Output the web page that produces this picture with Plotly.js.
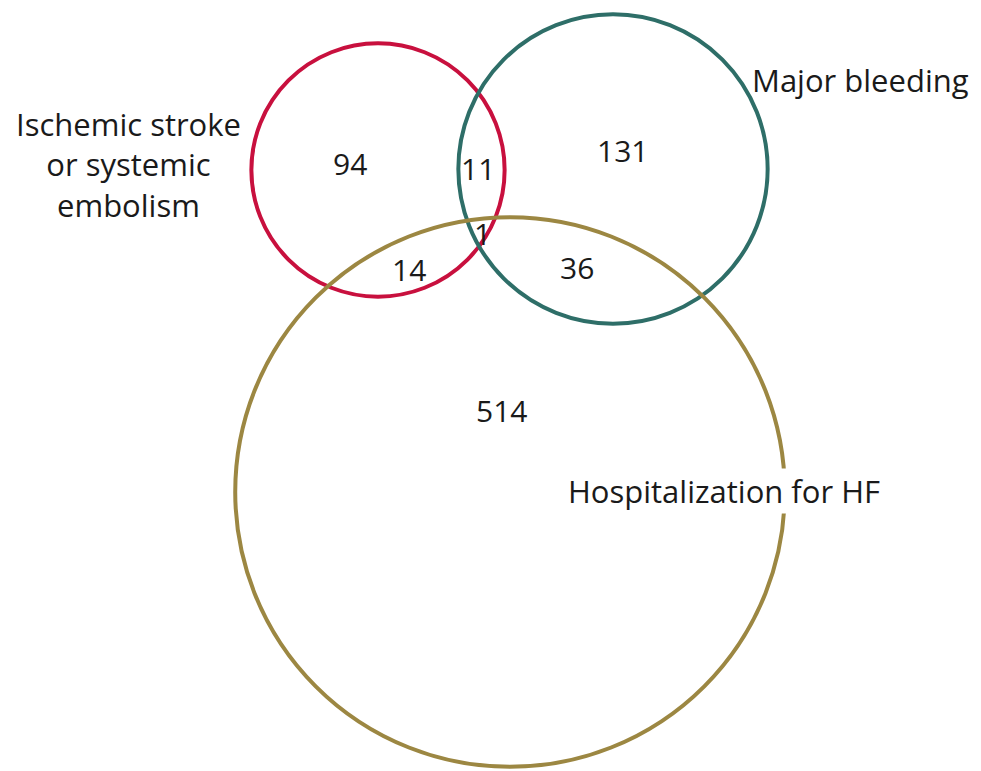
<!DOCTYPE html>
<html>
<head>
<meta charset="utf-8">
<script src="https://cdn.plot.ly/plotly-3.0.1.min.js"></script>
<style>html,body{margin:0;padding:0;background:#fff;}#chart{width:981px;height:771px;}</style>
</head>
<body>
<div id="chart"></div>
<script>
// ---- data ----
var setNames = ["Ischemic stroke<br>or systemic<br>embolism", "Major bleeding", "Hospitalization for HF"];
// region counts: only A, only B, only C, A&B, A&C, B&C, A&B&C
var regionKeys = ["A", "B", "C", "AB", "AC", "BC", "ABC"];
var regionCounts = [94, 131, 514, 11, 14, 36, 1];

// ---- layout constants (pixel-space geometry) ----
var setColors = ["#C8103E", "#2E6E68", "#9C8742"];
var setCenters = [[378, 170], [613, 169], [510, 492]];
var areaScale = 11.56; // radius = areaScale * sqrt(set total)
var regionLabelPos = {A: [350, 163], B: [622, 150], C: [501, 410], AB: [478, 168], AC: [409, 269], BC: [577, 267], ABC: [482, 233]};
var setLabelPos = [[128, 164], [860, 80], [724, 491]];

// set totals from region counts
var totals = [0, 0, 0];
regionKeys.forEach(function (k, i) {
  if (k.indexOf("A") >= 0) totals[0] += regionCounts[i];
  if (k.indexOf("B") >= 0) totals[1] += regionCounts[i];
  if (k.indexOf("C") >= 0) totals[2] += regionCounts[i];
});

var shapes = totals.map(function (t, i) {
  var r = areaScale * Math.sqrt(t);
  var c = setCenters[i];
  return {type: "circle", xref: "x", yref: "y", x0: c[0] - r, x1: c[0] + r, y0: c[1] - r, y1: c[1] + r,
    line: {color: setColors[i], width: 4}, fillcolor: "rgba(0,0,0,0)", layer: "below"};
});

var fontFam = "'Open Sans', Lato, sans-serif";
var annotations = [];
regionKeys.forEach(function (k, i) {
  annotations.push({x: regionLabelPos[k][0], y: regionLabelPos[k][1], xref: "x", yref: "y", text: String(regionCounts[i]),
    showarrow: false, font: {family: fontFam, size: 30, color: "#1a1a1a"}});
});
setNames.forEach(function (n, i) {
  annotations.push({x: setLabelPos[i][0], y: setLabelPos[i][1], xref: "x", yref: "y", text: n,
    showarrow: false, align: "center", bgcolor: i === 2 ? "#ffffff" : "rgba(0,0,0,0)",
    font: {family: fontFam, size: 31, color: "#1a1a1a"}});
});

var layout = {
  width: 981, height: 771,
  margin: {l: 0, r: 0, t: 0, b: 0},
  paper_bgcolor: "#ffffff", plot_bgcolor: "#ffffff",
  xaxis: {range: [0, 981], visible: false, fixedrange: true},
  yaxis: {range: [771, 0], visible: false, fixedrange: true},
  showlegend: false,
  shapes: shapes,
  annotations: annotations
};

Plotly.newPlot("chart", [{x: [], y: [], type: "scatter", mode: "markers", hoverinfo: "skip"}], layout, {displayModeBar: false, staticPlot: true});
</script>
</body>
</html>
